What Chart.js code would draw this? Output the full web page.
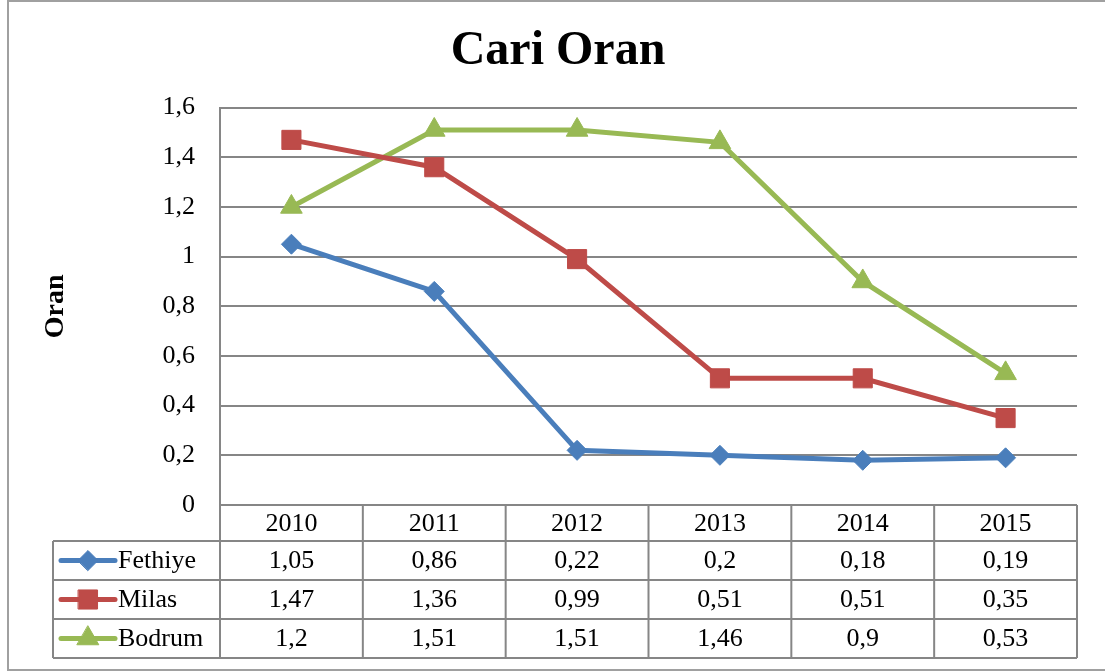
<!DOCTYPE html>
<html>
<head>
<meta charset="utf-8">
<script src="https://cdn.jsdelivr.net/npm/chart.js@4"></script>
<style>
  body { margin: 0; background: #fff; }
  canvas { display: block; }
</style>
</head>
<body>
<canvas id="oranChart" width="1105" height="672"></canvas>
<script>
// Dados do gráfico
const years = ["2010", "2011", "2012", "2013", "2014", "2015"];
const fethiye = [1.05, 0.86, 0.22, 0.2, 0.18, 0.19];
const milas = [1.47, 1.36, 0.99, 0.51, 0.51, 0.35];
const bodrum = [1.2, 1.51, 1.51, 1.46, 0.9, 0.53];
const yTicks = [0, 0.2, 0.4, 0.6, 0.8, 1, 1.2, 1.4, 1.6];

const serif = "'Liberation Serif', 'Times New Roman', serif";
const gridGray = "#868686";

// número com vírgula decimal
function fmt(v) {
  return String(v).replace(".", ",");
}

// Tabela de dados + moldura externa
const tablePlugin = {
  id: "dataTable",
  afterDraw(chart) {
    const ctx = chart.ctx;
    const area = chart.chartArea;
    const xs = chart.scales.x;
    const colW = (area.right - area.left) / years.length;
    const legendLeft = 53;
    const headTop = area.bottom;
    const headBottom = headTop + 36;
    const rowH = 39;
    const rowsBottom = headBottom + rowH * 3;

    ctx.save();
    ctx.strokeStyle = gridGray;
    ctx.lineWidth = 2;
    ctx.beginPath();
    // linhas horizontais
    for (let r = 0; r <= 3; r++) {
      const y = headBottom + r * rowH;
      ctx.moveTo(legendLeft, y);
      ctx.lineTo(area.right, y);
    }
    // linhas verticais
    ctx.moveTo(legendLeft, headBottom);
    ctx.lineTo(legendLeft, rowsBottom);
    for (let i = 0; i <= years.length; i++) {
      const x = area.left + i * colW;
      ctx.moveTo(x, headTop);
      ctx.lineTo(x, rowsBottom);
    }
    ctx.stroke();

    ctx.fillStyle = "#000";
    ctx.font = "26px " + serif;
    ctx.textAlign = "center";
    ctx.textBaseline = "middle";
    years.forEach((yr, i) => {
      ctx.fillText(yr, xs.getPixelForValue(i), (headTop + headBottom) / 2 + 1);
    });

    chart.data.datasets.forEach((ds, r) => {
      const cy = headBottom + r * rowH + rowH / 2 + 1;
      ctx.fillStyle = "#000";
      ctx.textAlign = "center";
      ds.data.forEach((v, i) => {
        ctx.fillText(fmt(v), xs.getPixelForValue(i), cy);
      });
      // amostra da legenda
      ctx.strokeStyle = ds.borderColor;
      ctx.lineWidth = 5;
      ctx.lineCap = "round";
      ctx.beginPath();
      ctx.moveTo(61, cy - 1);
      ctx.lineTo(115, cy - 1);
      ctx.stroke();
      ctx.fillStyle = ds.backgroundColor;
      ctx.lineWidth = 1;
      Chart.helpers.drawPoint(ctx, {
        pointStyle: ds.pointStyle,
        radius: ds.pointRadius,
        rotation: 0,
        borderWidth: 1
      }, 88, cy - 1);
      ctx.fillStyle = "#000";
      ctx.textAlign = "left";
      ctx.fillText(ds.label, 118, cy);
    });

    // moldura
    ctx.strokeStyle = "#a0a0a0";
    ctx.lineWidth = 2;
    ctx.beginPath();
    ctx.moveTo(1110, 1);
    ctx.lineTo(8, 1);
    ctx.lineTo(8, 670);
    ctx.lineTo(1110, 670);
    ctx.stroke();
    ctx.restore();
  }
};

function series(label, data, color, style, radius) {
  return {
    label: label,
    data: data,
    borderColor: color,
    backgroundColor: color,
    borderWidth: 5,
    pointStyle: style,
    pointRadius: radius,
    pointHoverRadius: radius,
    pointBorderWidth: 1,
    tension: 0
  };
}

const ctx = document.getElementById("oranChart").getContext("2d");
const myChart = new Chart(ctx, {
  type: "line",
  data: {
    labels: years,
    datasets: [
      series("Fethiye", fethiye, "#4A7EBB", "rectRot", 10),
      series("Milas", milas, "#BE4B48", "rect", 13.5),
      series("Bodrum", bodrum, "#98B954", "triangle", 12.5)
    ]
  },
  options: {
    responsive: false,
    animation: false,
    layout: { padding: { left: 39, right: 28, top: 0, bottom: 167 } },
    plugins: {
      legend: { display: false },
      tooltip: { enabled: false },
      title: {
        display: true,
        text: "Cari Oran",
        color: "#000",
        font: { family: serif, size: 48, weight: "bold", lineHeight: 1.2 },
        padding: { top: 23, bottom: 27 }
      }
    },
    scales: {
      x: {
        type: "category",
        offset: true,
        grid: { display: false },
        border: { display: false },
        ticks: { display: false },
        afterFit(scale) { scale.height = 0; }
      },
      y: {
        min: 0,
        max: 1.6,
        afterBuildTicks(scale) {
          scale.ticks = yTicks.map(v => ({ value: v }));
        },
        afterFit(scale) { scale.width = 181; },
        ticks: {
          padding: 25,
          color: "#000",
          font: { family: serif, size: 26 },
          callback: v => fmt(Math.round(v * 10) / 10)
        },
        grid: { color: gridGray, lineWidth: 2, drawTicks: false },
        border: { color: gridGray, width: 2 },
        title: {
          display: true,
          text: "Oran",
          color: "#000",
          font: { family: serif, size: 28, weight: "bold" },
          padding: { top: 0, bottom: 0 }
        }
      }
    }
  },
  plugins: [tablePlugin]
});
</script>
</body>
</html>
